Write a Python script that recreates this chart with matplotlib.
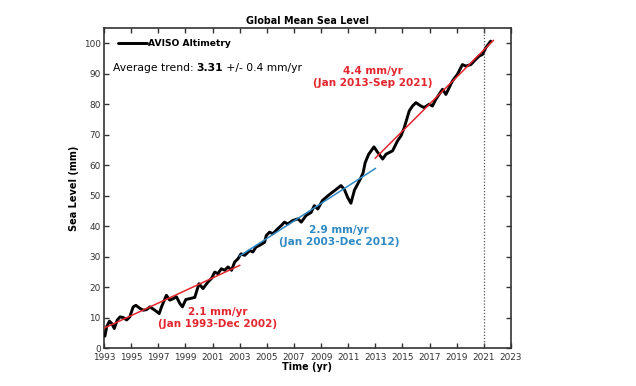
import matplotlib
matplotlib.use("Agg")
import matplotlib.pyplot as plt
import numpy as np

plt.rcParams['font.family'] = ['DejaVu Sans']

years = [1993.07, 1993.2, 1993.4, 1993.56, 1993.76, 1993.98, 1994.18, 1994.42, 1994.67, 1994.9,
         1995.15, 1995.35, 1995.65, 1995.9, 1996.14, 1996.38, 1996.75, 1997.07, 1997.24, 1997.6,
         1997.85, 1998.1, 1998.34, 1998.59, 1998.78, 1999.03, 1999.32, 1999.69, 2000.0, 2000.3,
         2000.67, 2000.92, 2001.16, 2001.4, 2001.65, 2001.9, 2002.14, 2002.4, 2002.63, 2002.88,
         2003.1, 2003.37, 2003.74, 2003.97, 2004.2, 2004.47, 2004.84, 2004.96, 2005.2, 2005.45,
         2005.8, 2006.07, 2006.3, 2006.55, 2006.9, 2007.3, 2007.54, 2007.9, 2008.27, 2008.5,
         2008.76, 2009.1, 2009.6, 2010.1, 2010.47, 2010.72, 2010.96, 2011.2, 2011.46, 2011.9,
         2012.1, 2012.25, 2012.5, 2012.9, 2013.17, 2013.54, 2013.79, 2014.27, 2014.64, 2014.89,
         2015.13, 2015.5, 2015.74, 2015.99, 2016.36, 2016.6, 2016.97, 2017.21, 2017.46, 2017.7,
         2017.95, 2018.2, 2018.44, 2018.68, 2019.05, 2019.42, 2019.67, 2020.04, 2020.4, 2020.65,
         2020.9, 2021.14, 2021.5]
gmsl = [3.9, 7.0, 8.8, 8.1, 6.4, 9.2, 10.2, 10.0, 9.2, 10.2,
        13.5, 14.0, 13.0, 12.4, 12.6, 13.5, 12.4, 11.3, 13.5, 17.3,
        15.7, 16.2, 16.8, 14.6, 13.5, 15.9, 16.2, 16.6, 21.1, 19.5,
        21.7, 22.8, 24.9, 24.4, 26.0, 25.5, 26.6, 25.5, 28.2, 29.3,
        30.9, 30.4, 32.0, 31.5, 33.1, 33.7, 34.7, 36.9, 38.0, 37.5,
        39.1, 40.2, 41.3, 40.7, 41.8, 42.4, 41.3, 43.5, 44.5, 46.7,
        45.6, 48.4, 50.3, 52.0, 53.3, 52.0, 49.4, 47.5, 51.8, 55.5,
        57.5, 60.8, 63.5, 66.0, 64.2, 62.0, 63.6, 64.7, 68.0, 69.6,
        72.3, 77.8, 79.4, 80.5, 79.4, 78.9, 80.0, 79.4, 81.6, 83.2,
        84.9, 83.2, 85.4, 87.6, 89.8, 93.0, 92.5, 93.0, 94.7, 95.8,
        96.3, 98.5, 100.7]

trend1_x = [1993.0, 2003.0]
trend1_y = [6.5, 27.1]
trend2_x = [2003.0, 2013.0]
trend2_y = [30.2, 58.9]
trend3_x = [2013.0, 2021.7]
trend3_y = [62.3, 100.9]

xticks = list(range(1993, 2024, 2))
yticks = list(range(0, 101, 10))

RED = '#e3262d'
BLUE = '#2f8ac4'

fig = plt.figure(figsize=(6.36, 3.86), dpi=100)
ax = fig.add_axes([104/636, 38/386, (511-104)/636, (348-28)/386])

ax.plot(years, gmsl, color='black', lw=2.1, solid_joinstyle='round',
        solid_capstyle='round', label='AVISO Altimetry', zorder=3)
ax.plot(trend1_x, trend1_y, color=RED, lw=1.1, zorder=4)
ax.plot(trend2_x, trend2_y, color=BLUE, lw=1.1, zorder=4)
ax.plot(trend3_x, trend3_y, color=RED, lw=1.1, zorder=4)
ax.axvline(2021.0, color='#555555', lw=0.9, ls=(0, (1, 1.5)), zorder=2)

ax.set_xlim(1993, 2023)
ax.set_ylim(0, 105)
ax.set_xticks(xticks)
ax.set_yticks(yticks)
ax.tick_params(direction='in', length=3.5, width=1.0, top=True, right=True,
               labelsize=6.4, colors='#333333', labelcolor='#333333', pad=2.5)
ax.tick_params(axis='x', pad=3.5)
for s in ax.spines.values():
    s.set_linewidth(1.2)
    s.set_color('#333333')

ax.set_title('Global Mean Sea Level', fontsize=7, fontweight='bold', pad=3)
ax.set_xlabel('Time (yr)', fontsize=7, fontweight='bold', labelpad=0)
ax.set_ylabel('Sea Level (mm)', fontsize=7, fontweight='bold', labelpad=3)

leg = ax.legend(loc='upper left', frameon=False, fontsize=6.3, handlelength=3.3,
                handletextpad=0.1, borderaxespad=0.3, bbox_to_anchor=(0.02, 0.985))
for t in leg.get_texts():
    t.set_fontweight('bold')

t1 = ax.text(0.021, 0.866, 'Average trend: ', transform=ax.transAxes, fontsize=7,
             ha='left', va='baseline')
t2 = ax.annotate('3.31', xy=(1, 0), xycoords=t1, va='bottom', ha='left',
                 fontsize=7, fontweight='bold')
t3 = ax.annotate(' +/- 0.4 mm/yr', xy=(1, 0), xycoords=t2, va='bottom', ha='left',
                 fontsize=7)

a1 = ax.text(2012.8, 88.9, '4.4 mm/yr\n(Jan 2013-Sep 2021)', color=RED, fontsize=6.6,
             fontweight='bold', ha='center', va='center', linespacing=1.25)
a2 = ax.text(2010.35, 36.6, '2.9 mm/yr\n(Jan 2003-Dec 2012)', color=BLUE, fontsize=6.6,
             fontweight='bold', ha='center', va='center', linespacing=1.25)
a3 = ax.text(2001.4, 10.0, '2.1 mm/yr\n(Jan 1993-Dec 2002)', color=RED, fontsize=6.6,
             fontweight='bold', ha='center', va='center', linespacing=1.25)

# fit font sizes to the reference text widths (pixels)
fig.canvas.draw()
r = fig.canvas.get_renderer()

def fit(artists, target):
    x0 = min(a.get_window_extent(r).x0 for a in artists)
    x1 = max(a.get_window_extent(r).x1 for a in artists)
    k = target / (x1 - x0)
    for a in artists:
        a.set_fontsize(a.get_fontsize() * k)

fit([ax.title], 124)
fit([leg.get_texts()[0]], 83)
fit([t1, t2, t3], 190)
fit([a1], 118)
fit([a2], 120)
fit([a3], 118)
fit([ax.xaxis.label], 50)

fig.savefig('out.png', dpi=100)
